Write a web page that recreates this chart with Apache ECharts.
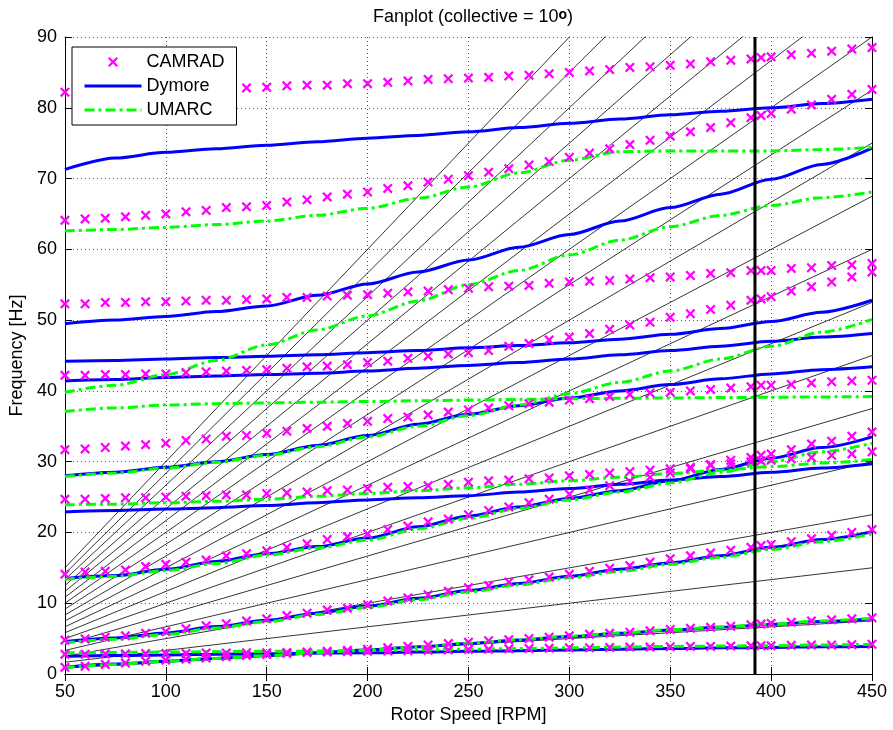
<!DOCTYPE html>
<html lang="en">
<head>
  <meta charset="UTF-8">
  <title>Fanplot</title>
  <script src="https://cdn.jsdelivr.net/npm/echarts@6.0.0/dist/echarts.min.js"></script>
  <style>
    html, body { margin: 0; padding: 0; background: #fff; }
    #fanplot { width: 893px; height: 730px; }
  </style>
</head>
<body>
  <div id="fanplot"></div>
<script>
  // rotor speeds where CAMRAD was run (extra point at 395)
  var camradRpm = [50, 60, 70, 80, 90, 100, 110, 120, 130, 140, 150, 160, 170, 180, 190, 200, 210, 220, 230, 240,
    250, 260, 270, 280, 290, 300, 310, 320, 330, 340, 350, 360, 370, 380, 390, 395, 400, 410, 420, 430, 440, 450]

  var camradModes = [
    [82.2, 82.3, 82.3, 82.4, 82.4, 82.5, 82.6, 82.6, 82.7, 82.8, 82.9, 83.1, 83.2, 83.2, 83.4, 83.4, 83.6, 83.8, 84.0, 84.1,
      84.2, 84.3, 84.5, 84.6, 84.8, 85.0, 85.2, 85.4, 85.7, 85.8, 86.0, 86.2, 86.5, 86.7, 86.9, 87.1, 87.2, 87.5, 87.7, 88.0, 88.3, 88.5],
    [64.1, 64.3, 64.4, 64.6, 64.8, 65.0, 65.3, 65.5, 65.9, 66.0, 66.2, 66.7, 67.0, 67.4, 67.8, 68.1, 68.6, 69.0, 69.5, 69.9,
      70.4, 70.9, 71.4, 71.9, 72.4, 73.0, 73.6, 74.2, 74.8, 75.4, 76.0, 76.6, 77.2, 77.9, 78.6, 78.9, 79.2, 79.8, 80.4, 81.2, 81.9, 82.6],
    [52.3, 52.3, 52.5, 52.5, 52.6, 52.6, 52.7, 52.8, 52.8, 52.9, 53.0, 53.2, 53.2, 53.4, 53.5, 53.6, 53.8, 54.0, 54.1, 54.3,
      54.5, 54.7, 54.8, 54.9, 55.2, 55.4, 55.5, 55.6, 55.8, 56.0, 56.1, 56.3, 56.6, 56.7, 57.0, 57.0, 57.0, 57.3, 57.4, 57.7, 57.8, 58.0],
    [42.2, 42.2, 42.3, 42.3, 42.4, 42.4, 42.6, 42.7, 42.8, 42.9, 43.0, 43.2, 43.4, 43.5, 43.7, 44.0, 44.2, 44.6, 44.9, 45.2,
      45.4, 45.7, 46.3, 46.7, 47.2, 47.6, 48.1, 48.7, 49.3, 49.7, 50.4, 50.9, 51.5, 52.1, 52.8, 53.0, 53.3, 54.1, 54.7, 55.4, 56.1, 56.8],
    [31.7, 31.8, 32.0, 32.2, 32.4, 32.6, 33.0, 33.2, 33.6, 33.7, 34.0, 34.3, 34.7, 35.0, 35.4, 35.7, 36.1, 36.3, 36.6, 37.0,
      37.3, 37.6, 37.9, 38.2, 38.4, 38.7, 38.9, 39.2, 39.5, 39.7, 39.8, 40.0, 40.2, 40.4, 40.6, 40.8, 40.8, 40.9, 41.1, 41.3, 41.4, 41.5],
    [24.7, 24.7, 24.8, 24.9, 24.9, 25.0, 25.1, 25.2, 25.3, 25.3, 25.5, 25.6, 25.7, 25.9, 26.0, 26.2, 26.4, 26.5, 26.6, 26.8,
      27.1, 27.3, 27.4, 27.6, 27.7, 28.0, 28.2, 28.4, 28.6, 28.8, 29.0, 29.2, 29.5, 29.7, 30.0, 30.1, 30.2, 30.4, 30.6, 30.9, 31.1, 31.4],
    [14.1, 14.4, 14.5, 14.7, 15.2, 15.5, 15.8, 16.1, 16.7, 17.0, 17.4, 17.9, 18.4, 19.0, 19.4, 19.8, 20.4, 20.9, 21.5, 21.9,
      22.5, 23.1, 23.6, 24.2, 24.7, 25.4, 26.0, 26.6, 27.2, 27.8, 28.4, 29.0, 29.6, 30.2, 30.6, 30.9, 31.1, 31.7, 32.5, 32.9, 33.6, 34.2],
    [4.8, 4.95, 5.2, 5.4, 5.75, 6.0, 6.4, 6.8, 7.1, 7.5, 7.8, 8.25, 8.6, 9.05, 9.3, 9.8, 10.3, 10.75, 11.2, 11.7,
      12.2, 12.5, 13.0, 13.3, 13.7, 14.1, 14.5, 14.95, 15.3, 15.8, 16.3, 16.7, 17.1, 17.5, 17.9, 18.15, 18.3, 18.7, 19.1, 19.6, 20.0, 20.4],
    [2.8, 2.8, 2.85, 2.85, 2.9, 2.9, 2.9, 2.95, 2.95, 3.0, 3.0, 3.05, 3.1, 3.1, 3.15, 3.2, 3.25, 3.3, 3.35, 3.4,
      3.45, 3.5, 3.55, 3.6, 3.65, 3.7, 3.7, 3.75, 3.8, 3.8, 3.85, 3.9, 3.9, 3.95, 4.0, 4.0, 4.0, 4.05, 4.1, 4.1, 4.15, 4.2],
    [0.95, 1.1, 1.35, 1.55, 1.8, 1.95, 2.1, 2.25, 2.45, 2.6, 2.75, 2.9, 3.05, 3.2, 3.35, 3.5, 3.7, 3.9, 4.1, 4.3,
      4.5, 4.7, 4.85, 5.0, 5.2, 5.4, 5.6, 5.75, 5.9, 6.1, 6.3, 6.45, 6.6, 6.75, 6.95, 7.05, 7.15, 7.3, 7.5, 7.65, 7.8, 7.95]
  ]

  // Dymore and UMARC curves, read every 25 RPM
  var curveRpm = [50, 75, 100, 125, 150, 175, 200, 225, 250, 275, 300, 325, 350, 375, 400, 425, 450]

  var dymoreModes = [
    [71.3, 72.9, 73.7, 74.2, 74.7, 75.2, 75.7, 76.1, 76.6, 77.2, 77.8, 78.4, 79.0, 79.5, 80.0, 80.6, 81.2],
    [49.5, 50.0, 50.5, 51.2, 52.0, 53.5, 55.1, 56.8, 58.5, 60.3, 62.1, 64.0, 65.9, 67.8, 69.9, 72.0, 74.3],
    [44.2, 44.3, 44.5, 44.7, 44.9, 45.1, 45.4, 45.7, 46.1, 46.4, 46.8, 47.3, 48.0, 48.8, 49.8, 51.1, 52.8],
    [41.4, 41.6, 41.9, 42.1, 42.3, 42.5, 42.8, 43.2, 43.6, 44.0, 44.5, 45.1, 45.7, 46.3, 47.0, 47.6, 48.1],
    [28.0, 28.5, 29.2, 30.0, 31.0, 32.3, 33.7, 35.3, 36.7, 37.9, 39.0, 40.0, 40.9, 41.7, 42.4, 43.0, 43.4],
    [22.9, 23.1, 23.3, 23.5, 23.8, 24.2, 24.6, 24.9, 25.2, 25.7, 26.2, 26.8, 27.4, 27.9, 28.5, 29.1, 29.7],
    [13.5, 13.9, 14.8, 15.9, 17.0, 18.0, 19.2, 20.8, 22.3, 23.6, 24.8, 25.9, 27.3, 28.9, 30.5, 32.0, 33.5],
    [4.6, 5.1, 5.8, 6.7, 7.6, 8.6, 9.6, 10.7, 11.8, 12.8, 13.8, 14.8, 15.7, 16.7, 17.9, 19.0, 20.1],
    [2.5, 2.6, 2.7, 2.8, 2.85, 2.95, 3.0, 3.1, 3.2, 3.3, 3.4, 3.5, 3.6, 3.7, 3.75, 3.85, 3.9],
    [0.95, 1.4, 1.8, 2.2, 2.6, 3.0, 3.4, 3.85, 4.3, 4.8, 5.3, 5.75, 6.2, 6.6, 7.0, 7.4, 7.8]
  ]

  var umarcModes = [
    [62.6, 62.8, 63.1, 63.5, 64.0, 64.8, 65.8, 67.2, 68.8, 70.8, 72.6, 73.8, 73.9, 73.9, 73.9, 74.1, 74.4],
    [39.8, 40.8, 42.3, 44.3, 46.5, 48.6, 50.6, 52.7, 55.0, 57.0, 59.2, 61.3, 63.2, 64.8, 66.2, 67.3, 68.1],
    [37.1, 37.6, 38.0, 38.2, 38.3, 38.4, 38.5, 38.6, 38.7, 38.8, 38.9, 38.95, 39.0, 39.05, 39.1, 39.15, 39.2],
    [27.9, 28.4, 29.1, 29.9, 30.9, 32.1, 33.5, 35.0, 36.5, 38.0, 39.6, 41.2, 42.8, 44.5, 46.3, 48.3, 50.1],
    [23.9, 24.0, 24.2, 24.4, 24.7, 25.1, 25.5, 25.9, 26.3, 26.8, 27.3, 27.8, 28.3, 28.8, 29.3, 29.8, 30.3],
    [13.4, 13.8, 14.6, 15.6, 16.8, 17.8, 18.9, 20.5, 22.0, 23.4, 24.6, 25.7, 27.0, 28.5, 30.0, 31.4, 32.6],
    [4.4, 4.9, 5.6, 6.5, 7.4, 8.4, 9.4, 10.5, 11.6, 12.6, 13.6, 14.5, 15.5, 16.5, 17.6, 18.7, 19.8],
    [3.0, 3.05, 3.1, 3.15, 3.2, 3.25, 3.3, 3.4, 3.5, 3.6, 3.7, 3.8, 3.9, 3.95, 4.0, 4.1, 4.2],
    [0.9, 1.35, 1.8, 2.2, 2.6, 3.0, 3.4, 3.85, 4.35, 4.85, 5.35, 5.8, 6.25, 6.65, 7.05, 7.5, 7.9]
  ]

  // per-rev excitation lines (n/rev) and the nominal rotor speed
  var revs = [1, 2, 3, 4, 5, 6, 7, 8, 9, 10, 11, 12, 13, 14, 15, 16, 17, 18]
  var nominalRpm = 392
  var rpmRange = [50, 450]
  var freqRange = [0, 90]

  var font = 'Liberation Sans, Arial, sans-serif'
  // filled "x" marker like matlab's
  var xMark = 'path://M0,1.6L1.6,0L5,3.4L8.4,0L10,1.6L6.6,5L10,8.4L8.4,10L5,6.6L1.6,10L0,8.4L3.4,5Z'

  function pairs(xs, ys) {
    return xs.map(function (x, i) { return [x, ys[i]] })
  }

  var series = []

  revs.forEach(function (n) {
    series.push({
      type: 'line',
      silent: true,
      symbol: 'none',
      z: 1,
      lineStyle: { color: '#000', width: 0.8 },
      data: rpmRange.map(function (r) { return [r, n * r / 60] })
    })
  })

  dymoreModes.forEach(function (m) {
    series.push({
      name: 'Dymore',
      type: 'line',
      symbol: 'none',
      smooth: 0.3,
      smoothMonotone: 'x',
      z: 2,
      lineStyle: { color: '#0000ff', width: 3 },
      itemStyle: { color: '#0000ff' },
      data: pairs(curveRpm, m)
    })
  })

  umarcModes.forEach(function (m) {
    series.push({
      name: 'UMARC',
      type: 'line',
      symbol: 'none',
      smooth: 0.3,
      smoothMonotone: 'x',
      z: 2,
      lineStyle: { color: '#00ff00', width: 3, type: [10, 4, 3, 4] },
      itemStyle: { color: '#00ff00' },
      data: pairs(curveRpm, m)
    })
  })

  camradModes.forEach(function (m) {
    series.push({
      name: 'CAMRAD',
      type: 'scatter',
      symbol: xMark,
      symbolSize: 10,
      z: 3,
      itemStyle: { color: '#ff00ff', opacity: 1 },
      data: pairs(camradRpm, m)
    })
  })

  // thick vertical line at the nominal speed
  series.push({
    type: 'line',
    silent: true,
    symbol: 'none',
    z: 4,
    lineStyle: { color: '#000', width: 3 },
    data: freqRange.map(function (f) { return [nominalRpm, f] })
  })

  var boxAxis = {
    type: 'value',
    axisLine: { show: true, lineStyle: { color: '#000', width: 1 } },
    axisTick: { show: true, inside: true, length: 7, lineStyle: { color: '#000' } },
    axisLabel: { show: false },
    splitLine: { show: false }
  }

  var chart = echarts.init(document.getElementById('fanplot'))
  chart.setOption({
    animation: false,
    backgroundColor: '#fff',
    title: {
      text: 'Fanplot (collective = 10{sup|o})',
      left: 468,
      top: 3,
      textAlign: 'center',
      textStyle: {
        fontFamily: font, fontSize: 18, fontWeight: 'normal', color: '#000',
        rich: {
          sup: { fontFamily: font, fontSize: 14, fontWeight: 'bold', color: '#000', lineHeight: 2, verticalAlign: 'top' }
        }
      }
    },
    legend: {
      orient: 'vertical',
      left: 72,
      top: 47,
      // hide the dot that echarts puts in the middle of line icons
      data: [
        { name: 'CAMRAD' },
        { name: 'Dymore', itemStyle: { opacity: 0 }, lineStyle: { width: 3 } },
        { name: 'UMARC', itemStyle: { opacity: 0 }, lineStyle: { width: 3 } }
      ],
      backgroundColor: '#fff',
      borderColor: '#000',
      borderWidth: 1,
      padding: [5, 12, 5, 11],
      itemWidth: 57,
      itemHeight: 10,
      itemGap: 4,
      selectedMode: false,
      z: 10,
      textStyle: { fontFamily: font, fontSize: 18, color: '#000', lineHeight: 20 }
    },
    grid: { left: 63, right: 21, top: 37, bottom: 56 },
    xAxis: [
      {
        type: 'value',
        min: rpmRange[0], max: rpmRange[1], interval: 50,
        name: 'Rotor Speed [RPM]',
        nameLocation: 'middle',
        nameGap: 31,
        nameTextStyle: { fontFamily: font, fontSize: 18, color: '#000' },
        axisLine: { show: true, lineStyle: { color: '#000', width: 1 } },
        axisTick: { show: true, inside: true, length: 7, lineStyle: { color: '#000' } },
        axisLabel: { fontFamily: font, fontSize: 18, color: '#000', margin: 9 },
        splitLine: { show: true, lineStyle: { color: '#555', width: 1, type: [1, 3] } }
      },
      Object.assign({}, boxAxis, { position: 'top', min: rpmRange[0], max: rpmRange[1], interval: 50 })
    ],
    yAxis: [
      {
        type: 'value',
        min: freqRange[0], max: freqRange[1], interval: 10,
        name: 'Frequency [Hz]',
        nameLocation: 'middle',
        nameGap: 29,
        nameTextStyle: { fontFamily: font, fontSize: 18, color: '#000' },
        axisLine: { show: true, lineStyle: { color: '#000', width: 1 } },
        axisTick: { show: true, inside: true, length: 7, lineStyle: { color: '#000' } },
        axisLabel: { fontFamily: font, fontSize: 18, color: '#000', margin: 8 },
        splitLine: { show: true, lineStyle: { color: '#555', width: 1, type: [1, 3] } }
      },
      Object.assign({}, boxAxis, { position: 'right', min: freqRange[0], max: freqRange[1], interval: 10 })
    ],
    series: series
  })
</script>
</body>
</html>
